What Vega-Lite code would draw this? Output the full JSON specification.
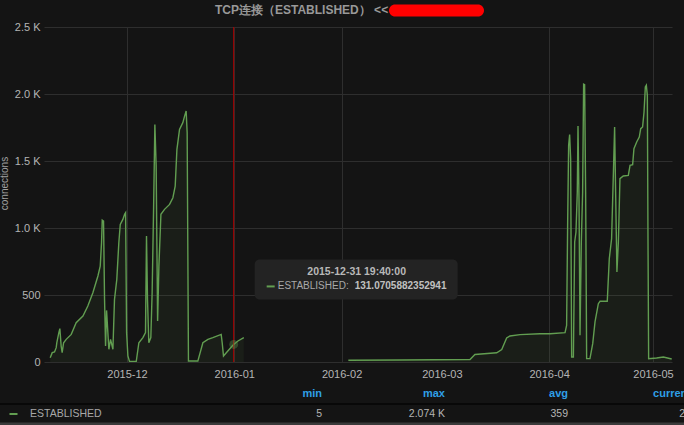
{
  "$schema": "https://vega.github.io/schema/vega-lite/v6.json",
  "width": 628,
  "height": 335,
  "autosize": {"type": "none"},
  "padding": {"left": 44, "top": 27, "right": 12, "bottom": 63},
  "background": "#141414",
  "title": {
    "text": "TCP连接（ESTABLISHED） <<",
    "anchor": "start",
    "frame": "group",
    "dx": 171,
    "offset": 0,
    "dy": 25,
    "baseline": "bottom",
    "font": "Liberation Sans",
    "fontSize": 12,
    "fontWeight": "bold",
    "color": "#999999"
  },
  "datasets": {
    "series": [
      {"t": "2015-11-08T19:00", "v": 32, "s": 1},
      {"t": "2015-11-09T09:00", "v": 70, "s": 1},
      {"t": "2015-11-10T01:00", "v": 75, "s": 1},
      {"t": "2015-11-10T12:40", "v": 107, "s": 1},
      {"t": "2015-11-10T17:00", "v": 144, "s": 1},
      {"t": "2015-11-11T07:00", "v": 219, "s": 1},
      {"t": "2015-11-11T14:00", "v": 249, "s": 1},
      {"t": "2015-11-11T23:00", "v": 119, "s": 1},
      {"t": "2015-11-12T06:00", "v": 70, "s": 1},
      {"t": "2015-11-12T16:00", "v": 144, "s": 1},
      {"t": "2015-11-13T10:00", "v": 169, "s": 1},
      {"t": "2015-11-14T21:00", "v": 206, "s": 1},
      {"t": "2015-11-16T07:00", "v": 293, "s": 1},
      {"t": "2015-11-18T06:00", "v": 343, "s": 1},
      {"t": "2015-11-19T16:00", "v": 418, "s": 1},
      {"t": "2015-11-21T03:00", "v": 517, "s": 1},
      {"t": "2015-11-22T14:00", "v": 642, "s": 1},
      {"t": "2015-11-23T06:00", "v": 716, "s": 1},
      {"t": "2015-11-23T15:00", "v": 890, "s": 1},
      {"t": "2015-11-23T20:00", "v": 1059, "s": 1},
      {"t": "2015-11-24T05:00", "v": 1052, "s": 1},
      {"t": "2015-11-24T12:00", "v": 467, "s": 1},
      {"t": "2015-11-24T19:00", "v": 119, "s": 1},
      {"t": "2015-11-25T02:00", "v": 385, "s": 1},
      {"t": "2015-11-25T11:00", "v": 219, "s": 1},
      {"t": "2015-11-25T18:00", "v": 95, "s": 1},
      {"t": "2015-11-26T05:30", "v": 169, "s": 1},
      {"t": "2015-11-26T22:00", "v": 95, "s": 1},
      {"t": "2015-11-27T09:00", "v": 467, "s": 1},
      {"t": "2015-11-28T01:00", "v": 617, "s": 1},
      {"t": "2015-11-28T15:00", "v": 890, "s": 1},
      {"t": "2015-11-29T01:00", "v": 1027, "s": 1},
      {"t": "2015-11-29T19:00", "v": 1064, "s": 1},
      {"t": "2015-11-30T07:00", "v": 1102, "s": 1},
      {"t": "2015-11-30T14:00", "v": 1114, "s": 1},
      {"t": "2015-11-30T21:00", "v": 219, "s": 1},
      {"t": "2015-12-01T06:00", "v": 45, "s": 1},
      {"t": "2015-12-01T17:00", "v": 5, "s": 1},
      {"t": "2015-12-03T16:00", "v": 5, "s": 1},
      {"t": "2015-12-04T10:00", "v": 144, "s": 1},
      {"t": "2015-12-05T14:00", "v": 182, "s": 1},
      {"t": "2015-12-06T08:00", "v": 219, "s": 1},
      {"t": "2015-12-06T15:00", "v": 940, "s": 1},
      {"t": "2015-12-06T22:00", "v": 467, "s": 1},
      {"t": "2015-12-07T07:00", "v": 144, "s": 1},
      {"t": "2015-12-07T21:00", "v": 182, "s": 1},
      {"t": "2015-12-08T06:00", "v": 517, "s": 1},
      {"t": "2015-12-08T16:00", "v": 1139, "s": 1},
      {"t": "2015-12-09T01:00", "v": 1773, "s": 1},
      {"t": "2015-12-09T10:00", "v": 1462, "s": 1},
      {"t": "2015-12-09T20:00", "v": 306, "s": 1},
      {"t": "2015-12-10T05:00", "v": 716, "s": 1},
      {"t": "2015-12-10T19:00", "v": 1102, "s": 1},
      {"t": "2015-12-11T20:00", "v": 1139, "s": 1},
      {"t": "2015-12-13T07:00", "v": 1176, "s": 1},
      {"t": "2015-12-14T06:00", "v": 1226, "s": 1},
      {"t": "2015-12-14T22:00", "v": 1313, "s": 1},
      {"t": "2015-12-15T10:00", "v": 1587, "s": 1},
      {"t": "2015-12-16T04:00", "v": 1736, "s": 1},
      {"t": "2015-12-17T03:00", "v": 1786, "s": 1},
      {"t": "2015-12-17T15:00", "v": 1835, "s": 1},
      {"t": "2015-12-18T02:00", "v": 1873, "s": 1},
      {"t": "2015-12-18T09:00", "v": 1711, "s": 1},
      {"t": "2015-12-18T18:00", "v": 7, "s": 1},
      {"t": "2015-12-21T11:00", "v": 7, "s": 1},
      {"t": "2015-12-22T22:00", "v": 144, "s": 1},
      {"t": "2015-12-24T09:00", "v": 169, "s": 1},
      {"t": "2015-12-25T19:00", "v": 182, "s": 1},
      {"t": "2015-12-28T05:00", "v": 206, "s": 1},
      {"t": "2015-12-28T12:00", "v": 144, "s": 1},
      {"t": "2015-12-28T21:00", "v": 45, "s": 1},
      {"t": "2015-12-30T03:00", "v": 82, "s": 1},
      {"t": "2015-12-31T14:00", "v": 125, "s": 1},
      {"t": "2015-12-31T19:40", "v": 131.0705882352941, "s": 1},
      {"t": "2016-01-02T01:00", "v": 157, "s": 1},
      {"t": "2016-01-03T18:00", "v": 182, "s": 1},
      {"t": "2016-02-02T23:00", "v": 13, "s": 2},
      {"t": "2016-02-17T22:00", "v": 15, "s": 2},
      {"t": "2016-03-09T03:00", "v": 19, "s": 2},
      {"t": "2016-03-10T13:00", "v": 56, "s": 2},
      {"t": "2016-03-16T20:00", "v": 69, "s": 2},
      {"t": "2016-03-18T07:00", "v": 93, "s": 2},
      {"t": "2016-03-19T17:00", "v": 179, "s": 2},
      {"t": "2016-03-20T16:00", "v": 194, "s": 2},
      {"t": "2016-03-23T14:00", "v": 204, "s": 2},
      {"t": "2016-03-29T08:00", "v": 211, "s": 2},
      {"t": "2016-04-01T06:00", "v": 211, "s": 2},
      {"t": "2016-04-05T14:00", "v": 219, "s": 2},
      {"t": "2016-04-06T01:00", "v": 273, "s": 2},
      {"t": "2016-04-06T08:00", "v": 1020, "s": 2},
      {"t": "2016-04-06T15:00", "v": 1617, "s": 2},
      {"t": "2016-04-06T22:00", "v": 1697, "s": 2},
      {"t": "2016-04-07T05:00", "v": 1517, "s": 2},
      {"t": "2016-04-07T12:00", "v": 37, "s": 2},
      {"t": "2016-04-08T00:00", "v": 37, "s": 2},
      {"t": "2016-04-08T09:00", "v": 896, "s": 2},
      {"t": "2016-04-08T18:00", "v": 970, "s": 2},
      {"t": "2016-04-09T03:00", "v": 1269, "s": 2},
      {"t": "2016-04-09T08:00", "v": 1761, "s": 2},
      {"t": "2016-04-09T15:00", "v": 1219, "s": 2},
      {"t": "2016-04-09T22:00", "v": 199, "s": 2},
      {"t": "2016-04-10T07:00", "v": 896, "s": 2},
      {"t": "2016-04-10T16:00", "v": 1269, "s": 2},
      {"t": "2016-04-10T23:00", "v": 2074, "s": 2},
      {"t": "2016-04-11T06:00", "v": 2070, "s": 2},
      {"t": "2016-04-11T13:00", "v": 1269, "s": 2},
      {"t": "2016-04-11T20:00", "v": 25, "s": 2},
      {"t": "2016-04-12T19:00", "v": 25, "s": 2},
      {"t": "2016-04-13T14:00", "v": 137, "s": 2},
      {"t": "2016-04-14T06:00", "v": 299, "s": 2},
      {"t": "2016-04-15T05:00", "v": 435, "s": 2},
      {"t": "2016-04-15T17:00", "v": 453, "s": 2},
      {"t": "2016-04-17T19:00", "v": 453, "s": 2},
      {"t": "2016-04-18T09:00", "v": 771, "s": 2},
      {"t": "2016-04-19T01:00", "v": 920, "s": 2},
      {"t": "2016-04-19T13:00", "v": 1393, "s": 2},
      {"t": "2016-04-19T22:00", "v": 1754, "s": 2},
      {"t": "2016-04-20T05:00", "v": 1269, "s": 2},
      {"t": "2016-04-20T14:00", "v": 672, "s": 2},
      {"t": "2016-04-21T00:00", "v": 896, "s": 2},
      {"t": "2016-04-21T11:00", "v": 1368, "s": 2},
      {"t": "2016-04-22T10:00", "v": 1388, "s": 2},
      {"t": "2016-04-23T21:00", "v": 1393, "s": 2},
      {"t": "2016-04-24T09:00", "v": 1468, "s": 2},
      {"t": "2016-04-25T03:00", "v": 1473, "s": 2},
      {"t": "2016-04-25T12:00", "v": 1592, "s": 2},
      {"t": "2016-04-26T07:00", "v": 1642, "s": 2},
      {"t": "2016-04-27T01:00", "v": 1679, "s": 2},
      {"t": "2016-04-27T11:00", "v": 1741, "s": 2},
      {"t": "2016-04-28T00:00", "v": 1754, "s": 2},
      {"t": "2016-04-28T10:00", "v": 1866, "s": 2},
      {"t": "2016-04-28T19:00", "v": 2052, "s": 2},
      {"t": "2016-04-29T02:00", "v": 2065, "s": 2},
      {"t": "2016-04-29T09:00", "v": 1990, "s": 2},
      {"t": "2016-04-29T13:00", "v": 1020, "s": 2},
      {"t": "2016-04-29T18:00", "v": 25, "s": 2},
      {"t": "2016-05-02T01:00", "v": 30, "s": 2},
      {"t": "2016-05-04T00:00", "v": 37, "s": 2},
      {"t": "2016-05-06T10:00", "v": 22, "s": 2}
    ],
    "hover": [
      {"t": "2015-12-31T19:40", "v": 131.0705882352941, "series": "ESTABLISHED"}
    ],
    "stats": [
      {"stat": "min", "value": 5},
      {"stat": "max", "value": 2074},
      {"stat": "avg", "value": 359},
      {"stat": "current", "value": 22}
    ]
  },
  "layer": [
    {
      "layer": [
        {
          "data": {"name": "series"},
          "encoding": {
            "x": {
              "field": "t",
              "type": "temporal",
              "scale": {
                "domain": [
                  {"year": 2015, "month": 11, "date": 7},
                  {"year": 2016, "month": 5, "date": 6, "hours": 12}
                ]
              },
              "axis": {
                "title": null,
                "values": [
                  {"year": 2015, "month": 12, "date": 1},
                  {"year": 2016, "month": 1, "date": 1},
                  {"year": 2016, "month": 2, "date": 1},
                  {"year": 2016, "month": 3, "date": 1},
                  {"year": 2016, "month": 4, "date": 1},
                  {"year": 2016, "month": 5, "date": 1}
                ],
                "format": "%Y-%m",
                "domain": false,
                "ticks": false,
                "labelPadding": 6,
                "labelFont": "Liberation Sans",
                "labelFontSize": 11,
                "labelColor": "#b4b4b4",
                "gridColor": "#2e2e2e",
                "gridOpacity": {"condition": {"test": "month(datum.value) == 2", "value": 0}, "value": 1}
              }
            },
            "y": {
              "field": "v",
              "type": "quantitative",
              "stack": null,
              "scale": {"domain": [0, 2500], "nice": false},
              "axis": {
                "title": "connections",
                "values": [0, 500, 1000, 1500, 2000, 2500],
                "labelExpr": "datum.value >= 1000 ? format(datum.value / 1000, '.1f') + ' K' : format(datum.value, 'd')",
                "domain": false,
                "ticks": false,
                "labelPadding": 4,
                "labelFont": "Liberation Sans",
                "labelFontSize": 11,
                "labelColor": "#b4b4b4",
                "gridColor": "#2e2e2e",
                "titleFont": "Liberation Sans",
                "titleFontSize": 10,
                "titleFontWeight": "normal",
                "titleColor": "#a0a0a0",
                "titlePadding": 5,
                "titleY": 156
              }
            },
            "detail": {"field": "s", "type": "nominal"}
          },
          "layer": [
            {"mark": {"type": "area", "color": "#629e51", "opacity": 0.08}},
            {"mark": {"type": "line", "color": "#629e51", "strokeWidth": 1.4}},
            {
              "data": {"name": "hover"},
              "mark": {"type": "rule", "color": "#b00000", "strokeWidth": 1},
              "encoding": {"y": null, "detail": null}
            },
            {
              "data": {"name": "hover"},
              "mark": {"type": "point", "filled": true, "size": 80, "color": "#629e51", "opacity": 0.35},
              "encoding": {"detail": null}
            },
            {
              "data": {"name": "hover"},
              "mark": {"type": "rect", "color": "#232323", "cornerRadius": 5, "xOffset": 21, "x2Offset": 224, "yOffset": -85, "y2Offset": -45},
              "encoding": {"x2": {"field": "t"}, "y2": {"field": "v"}, "detail": null}
            },
            {
              "data": {"name": "hover"},
              "mark": {"type": "text", "align": "center", "baseline": "middle", "dx": 123, "dy": -72, "font": "Liberation Sans", "fontSize": 10.5, "fontWeight": "bold", "color": "#b8b8b8"},
              "encoding": {"text": {"field": "t", "type": "temporal", "format": "%Y-%m-%d %H:%M:%S"}, "detail": null}
            },
            {
              "data": {"name": "hover"},
              "mark": {"type": "point", "shape": "M-1,-0.25L1,-0.25L1,0.25L-1,0.25Z", "filled": true, "size": 64, "color": "#629e51", "opacity": 1, "xOffset": 37, "yOffset": -58},
              "encoding": {"detail": null}
            },
            {
              "data": {"name": "hover"},
              "mark": {"type": "text", "align": "right", "baseline": "middle", "dx": 115, "dy": -58, "font": "Liberation Sans", "fontSize": 10, "color": "#a8a8a8"},
              "encoding": {"text": {"value": "ESTABLISHED:"}, "detail": null}
            },
            {
              "data": {"name": "hover"},
              "mark": {"type": "text", "align": "left", "baseline": "middle", "dx": 121, "dy": -58, "font": "Liberation Sans", "fontSize": 10, "fontWeight": "bold", "color": "#c0c0c0"},
              "encoding": {"text": {"field": "v", "type": "nominal"}, "detail": null}
            }
          ]
        },
        {
          "data": {"values": [{"note": "redacted"}]},
          "mark": {"type": "rect", "color": "#ff0000", "cornerRadius": 6},
          "encoding": {
            "x": {
              "datum": {"year": 2016, "month": 2, "date": 14, "hours": 17},
              "type": "temporal",
              "scale": {
                "domain": [
                  {"year": 2015, "month": 11, "date": 7},
                  {"year": 2016, "month": 5, "date": 6, "hours": 12}
                ]
              }
            },
            "x2": {"datum": {"year": 2016, "month": 3, "date": 13, "hours": 4}},
            "y": {"datum": 2668, "type": "quantitative", "scale": {"domain": [0, 2500], "nice": false}},
            "y2": {"datum": 2578}
          }
        }
      ]
    },
    {
      "data": {"name": "stats"},
      "transform": [
        {"calculate": "datum.value >= 1000 ? format(datum.value / 1000, '.3f') + ' K' : format(datum.value, 'd')", "as": "label"}
      ],
      "encoding": {
        "x": {
          "field": "stat",
          "type": "nominal",
          "scale": {"type": "point", "domain": ["min", "max", "avg", "current"], "range": [278, 647], "padding": 0},
          "axis": null
        },
        "y": {"datum": "value", "type": "nominal", "scale": {"type": "point", "domain": ["header", "sep", "value", "bottom"], "range": [367, 397], "padding": 0}, "axis": null}
      },
      "layer": [
        {
          "mark": {"type": "text", "align": "right", "baseline": "middle", "font": "Liberation Sans", "fontSize": 11, "fontWeight": "bold", "color": "#2f9fe6"},
          "encoding": {
            "y": {"datum": "header", "type": "nominal"},
            "text": {"field": "stat"}
          }
        },
        {
          "mark": {"type": "text", "align": "right", "baseline": "middle", "font": "Liberation Sans", "fontSize": 10.5, "color": "#b4b4b4"},
          "encoding": {
            "text": {"field": "label"}
          }
        }
      ]
    },
    {
      "data": {"name": "hover"},
      "encoding": {
        "y": {"datum": "value", "type": "nominal", "scale": {"type": "point", "domain": ["header", "sep", "value", "bottom"], "range": [367, 397], "padding": 0}, "axis": null},
        "x": {"datum": "left", "type": "nominal", "scale": {"type": "point", "domain": ["left", "right"], "range": [-44, 640], "padding": 0}, "axis": null}
      },
      "layer": [
        {
          "mark": {"type": "rule", "color": "#050505", "strokeWidth": 1.5},
          "encoding": {"x2": {"datum": "right"}, "y": {"datum": "sep", "type": "nominal"}}
        },
        {
          "mark": {"type": "rule", "color": "#3a3a3a", "strokeWidth": 3},
          "encoding": {"x2": {"datum": "right"}, "y": {"datum": "bottom", "type": "nominal"}}
        },
        {
          "mark": {"type": "point", "shape": "M-1,-0.25L1,-0.25L1,0.25L-1,0.25Z", "filled": true, "size": 64, "color": "#629e51", "opacity": 1, "xOffset": 13.5}
        },
        {
          "mark": {"type": "text", "align": "left", "baseline": "middle", "font": "Liberation Sans", "fontSize": 10.5, "color": "#a8a8a8", "dx": 30},
          "encoding": {"text": {"field": "series"}}
        }
      ]
    }
  ],
  "resolve": {"scale": {"x": "independent", "y": "independent"}},
  "config": {"view": {"stroke": null}}
}
